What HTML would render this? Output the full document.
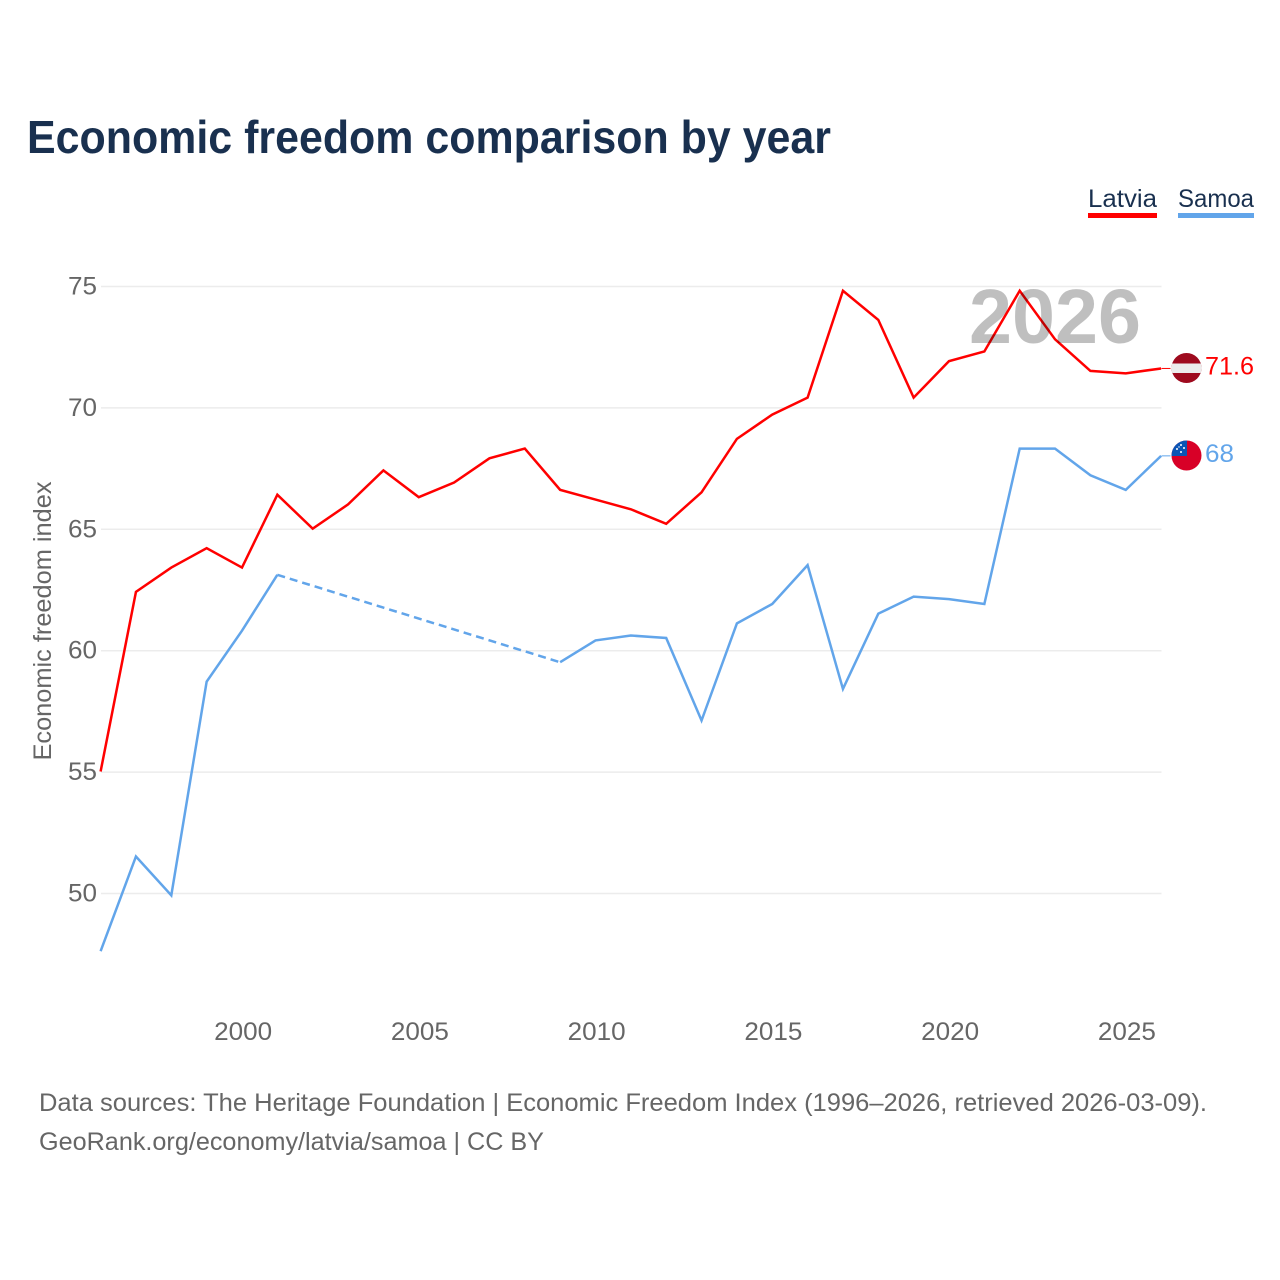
<!DOCTYPE html>
<html lang="en">
<head>
<meta charset="utf-8">
<title>Economic freedom comparison by year</title>
<style>
html,body{margin:0;padding:0;background:#fff;}
svg{display:block;font-family:"Liberation Sans",sans-serif;}
</style>
</head>
<body>
<svg id="chart" width="1280" height="1280" viewBox="0 0 1280 1280" xmlns="http://www.w3.org/2000/svg">
  <rect width="1280" height="1280" fill="#fff"/>
  <text x="27" y="153" font-size="46" font-weight="700" fill="#19304f" textLength="804" lengthAdjust="spacingAndGlyphs">Economic freedom comparison by year</text>

  <g>
    <g>
      <text x="1088" y="207" font-size="25" fill="#19304f" textLength="69" lengthAdjust="spacingAndGlyphs">Latvia</text>
      <rect x="1088" y="213" width="69" height="5" fill="#ff0000"/>
    </g>
    <g>
      <text x="1178" y="207" font-size="25" fill="#19304f" textLength="76" lengthAdjust="spacingAndGlyphs">Samoa</text>
      <rect x="1178" y="213" width="76" height="5" fill="#62a5ea"/>
    </g>
  </g>

  <g id="grid"></g>
  <g id="yticks"></g>
  <g id="xticks"></g>
  <text transform="translate(51,621) rotate(-90)" text-anchor="middle" font-size="25" fill="#666" textLength="279" lengthAdjust="spacingAndGlyphs">Economic freedom index</text>

  <g id="series" transform="translate(-0.4,-0.6)"></g>
  <g id="markers"></g>

  <text x="969" y="343" font-size="77" font-weight="700" fill="#000" fill-opacity="0.25" textLength="172" lengthAdjust="spacingAndGlyphs">2026</text>

  <g>
    <clipPath id="clipLv"><circle cx="1186.5" cy="368" r="15"/></clipPath>
    <g clip-path="url(#clipLv)">
      <rect x="1170" y="352" width="33" height="32" fill="#9e0a1e"/>
      <rect x="1170" y="363.5" width="33" height="9.5" fill="#ececec"/>
    </g>
  </g>
  <g>
    <clipPath id="clipWs"><circle cx="1186.5" cy="455.5" r="15"/></clipPath>
    <g clip-path="url(#clipWs)">
      <rect x="1170" y="439" width="33" height="33" fill="#d80027"/>
      <rect x="1170" y="439" width="17" height="17" fill="#0a55b5"/>
      <circle cx="1181" cy="445" r="1" fill="#fff"/>
      <circle cx="1177" cy="449" r="1" fill="#fff"/>
      <circle cx="1184" cy="448" r="1" fill="#fff"/>
      <circle cx="1181" cy="452" r="1" fill="#fff"/>
      <circle cx="1179" cy="447" r="0.7" fill="#fff"/>
    </g>
  </g>

  <text id="footer1" x="39" y="1111" font-size="25" fill="#666" textLength="1168" lengthAdjust="spacingAndGlyphs">Data sources: The Heritage Foundation | Economic Freedom Index (1996–2026, retrieved 2026-03-09).</text>
  <text id="footer2" x="39" y="1150" font-size="25" fill="#666" textLength="505" lengthAdjust="spacingAndGlyphs">GeoRank.org/economy/latvia/samoa | CC BY</text>
</svg>
<script>
const years = [1996,1997,1998,1999,2000,2001,2002,2003,2004,2005,2006,2007,2008,2009,2010,2011,2012,2013,2014,2015,2016,2017,2018,2019,2020,2021,2022,2023,2024,2025,2026];
const latviaValues = [55.0,62.4,63.4,64.2,63.4,66.4,65.0,66.0,67.4,66.3,66.9,67.9,68.3,66.6,66.2,65.8,65.2,66.5,68.7,69.7,70.4,74.8,73.6,70.4,71.9,72.3,74.8,72.8,71.5,71.4,71.6];
const samoaValues = [47.6,51.5,49.9,58.7,60.8,63.1,null,null,null,null,null,null,null,59.5,60.4,60.6,60.5,57.1,61.1,61.9,63.5,58.4,61.5,62.2,62.1,61.9,68.3,68.3,67.2,66.6,68.0];
const yTickValues = [50,55,60,65,70,75];
const xTickValues = [2000,2005,2010,2015,2020,2025];
const seriesNames = ["latvia","samoa"];
const seriesColors = ["#ff0000","#62a5ea"];

const NS = "http://www.w3.org/2000/svg";
function xScale(year){ return 101 + (year - 1996) * (1161.5 - 101) / 30; }
function yScale(v){ return 893.5 - (v - 50) * (893.5 - 286.5) / 25; }
function make(tag, attrs, parent){
  const el = document.createElementNS(NS, tag);
  for (const k in attrs) el.setAttribute(k, attrs[k]);
  parent.appendChild(el);
  return el;
}
const gridG = document.getElementById("grid");
const yG = document.getElementById("yticks");
const xG = document.getElementById("xticks");
const seriesG = document.getElementById("series");
const markersG = document.getElementById("markers");

yTickValues.forEach(function(v){
  const line = make("line", {x1:101, x2:1161.5, y1:yScale(v), y2:yScale(v), stroke:"#ececec", "stroke-width":1.5}, gridG);
  
  
  const t = make("text", {x:97, y:yScale(v)+8, "text-anchor":"end", "font-size":25, fill:"#666", textLength:29, lengthAdjust:"spacingAndGlyphs"}, yG);
  
  
  t.textContent = v;
});
xTickValues.forEach(function(v){
  const t = make("text", {x:xScale(v)+0.7, y:1040, "text-anchor":"middle", "font-size":25, fill:"#666", textLength:58, lengthAdjust:"spacingAndGlyphs"}, xG);
  
  
  t.textContent = v;
});

function drawSeries(values, color, name){
  let solid = "";
  let last = null;
  let pen = false;
  values.forEach(function(v, i){
    if (v === null) { pen = false; return; }
    const px = xScale(years[i]), py = yScale(v);
    if (last !== null && !pen) {
      const gap = make("line", {x1:xScale(years[last]), y1:yScale(values[last]), x2:px, y2:py, stroke:color, "stroke-width":2.5, "stroke-dasharray":"8 5"}, seriesG);
      
      
    }
    solid += (pen ? "L" : "M") + px.toFixed(2) + " " + py.toFixed(2);
    pen = true;
    last = i;
  });
  const p = make("path", {d:solid, fill:"none", stroke:color, "stroke-width":2.5, "stroke-linejoin":"miter"}, seriesG);
  
  
  p.setAttribute('aria-label', name);
  const endV = values[last];
  const endX = xScale(years[last]);
  const endY = yScale(endV) - 0.6;
  const lead = make("line", {x1:endX, y1:endY, x2:endX+9, y2:endY, stroke:color, "stroke-width":1}, markersG);
  
  
  const lab = make("text", {x:1205, y:endY+6, "font-size":25, fill:color, textLength:String(endV).length > 2 ? 49 : 29, lengthAdjust:"spacingAndGlyphs"}, markersG);
  
  
  lab.textContent = endV;
}
drawSeries(latviaValues, seriesColors[0], seriesNames[0]);
drawSeries(samoaValues, seriesColors[1], seriesNames[1]);
</script>
</body>
</html>
